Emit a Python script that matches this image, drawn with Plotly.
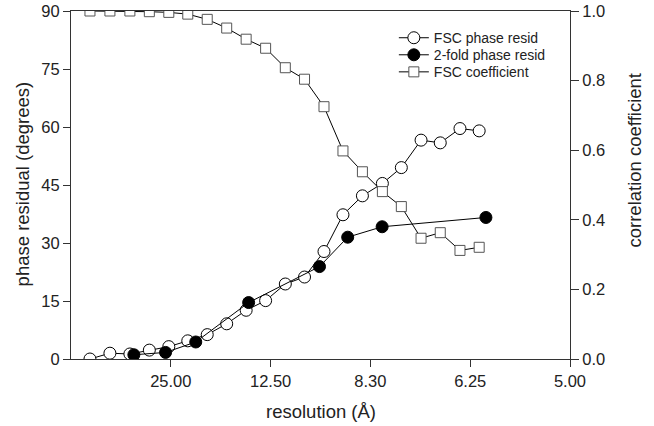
import plotly.graph_objects as go

# spatial frequency (1/Å) for each shell
fsc_freq = [0.0076, 0.0156, 0.0236, 0.0314, 0.0392, 0.0468, 0.0546, 0.0624, 0.0702, 0.0780,
            0.0859, 0.0936, 0.1014, 0.1090, 0.1168, 0.1248, 0.1324, 0.1403, 0.1480, 0.1559, 0.1636]
fsc_phase_resid = [0.0, 1.5, 1.3, 2.3, 3.2, 4.7, 6.3, 9.1, 12.6, 15.1,
                   19.4, 21.2, 27.8, 37.3, 42.2, 45.4, 49.5, 56.6, 55.9, 59.6, 59.0]
fsc_coefficient = [1.0, 1.0, 1.0, 0.998, 0.996, 0.991, 0.976, 0.951, 0.919, 0.893,
                   0.837, 0.804, 0.725, 0.598, 0.538, 0.481, 0.438, 0.347, 0.363, 0.312, 0.321]

twofold_freq = [0.0252, 0.0379, 0.0500, 0.0712, 0.0996, 0.1109, 0.1247, 0.1663]
twofold_phase_resid = [1.1, 1.7, 4.4, 14.6, 23.9, 31.5, 34.2, 36.6]

x_tickvals = [0.04, 0.08, 0.12, 0.16, 0.20]
x_ticktext = ["25.00", "12.50", "8.30", "6.25", "5.00"]
y_ticks = [0, 15, 30, 45, 60, 75, 90]
y2_ticks = [0.0, 0.2, 0.4, 0.6, 0.8, 1.0]

FONT = "Liberation Sans, Arial, sans-serif"
AX = "#333333"
TXT = "#222222"

fig = go.Figure()
fig.add_trace(go.Scatter(
    x=fsc_freq, y=fsc_phase_resid, name="FSC phase resid", mode="lines+markers",
    line=dict(color="black", width=1), legend="legend",
    marker=dict(symbol="circle", size=12, color="white", line=dict(color="black", width=1)),
))
fig.add_trace(go.Scatter(
    x=twofold_freq, y=twofold_phase_resid, name="2-fold phase resid", mode="lines+markers",
    line=dict(color="black", width=1), legend="legend2",
    marker=dict(symbol="circle", size=12, color="black", line=dict(color="black", width=1)),
))
fig.add_trace(go.Scatter(
    x=fsc_freq, y=fsc_coefficient, name="FSC coefficient", mode="lines+markers", yaxis="y2",
    line=dict(color="black", width=1), legend="legend3",
    marker=dict(symbol="square", size=10, color="white", line=dict(color="#555555", width=1)),
))

leg_common = dict(x=0.647, xanchor="left", yanchor="middle", bgcolor="rgba(0,0,0,0)",
                  font=dict(size=14, family=FONT, color=TXT), itemwidth=30)

fig.update_layout(
    width=654, height=426,
    margin=dict(l=71, r=84, t=11, b=67, autoexpand=False),
    paper_bgcolor="white", plot_bgcolor="white",
    font=dict(family=FONT, color=TXT, size=16),
    showlegend=True,
    legend=dict(y=0.922, **leg_common),
    legend2=dict(y=0.873, **leg_common),
    legend3=dict(y=0.824, **leg_common),
    xaxis=dict(range=[0, 0.2], tickvals=x_tickvals, ticktext=x_ticktext, automargin=False,
               showgrid=False, zeroline=False, showline=True, linecolor=AX, linewidth=1,
               mirror=True, ticks="outside", ticklen=7, tickcolor=AX,
               tickfont=dict(size=16.5), ticklabeloverflow="allow"),
    yaxis=dict(range=[0, 90], tickvals=y_ticks, showgrid=False, zeroline=False, automargin=False,
               showline=True, linecolor=AX, linewidth=1, ticks="outside", ticklen=7,
               tickcolor=AX, tickfont=dict(size=16.5), ticklabeloverflow="allow"),
    yaxis2=dict(range=[0, 1.0], tickvals=y2_ticks, tickformat=".1f", overlaying="y", side="right",
                automargin=False, ticklabeloverflow="allow",
                showgrid=False, zeroline=False, showline=True, linecolor=AX, linewidth=1,
                ticks="outside", ticklen=8, tickcolor=AX, tickfont=dict(size=16.5)),
    annotations=[
        dict(text="resolution (Å)", xref="paper", yref="paper", x=0.5, y=-0.151,
             xanchor="center", yanchor="middle", showarrow=False, font=dict(size=18.5)),
        dict(text="phase residual (degrees)", xref="paper", yref="paper", x=-0.098, y=0.502,
             xanchor="center", yanchor="middle", textangle=-90, showarrow=False,
             font=dict(size=18.5)),
        dict(text="correlation coefficient", xref="paper", yref="paper", x=1.130, y=0.570,
             xanchor="center", yanchor="middle", textangle=-90, showarrow=False,
             font=dict(size=18.5)),
    ],
)

fig.write_html("out.html", config={"displayModeBar": False},
               post_script="document.body.style.margin = '0px';")
